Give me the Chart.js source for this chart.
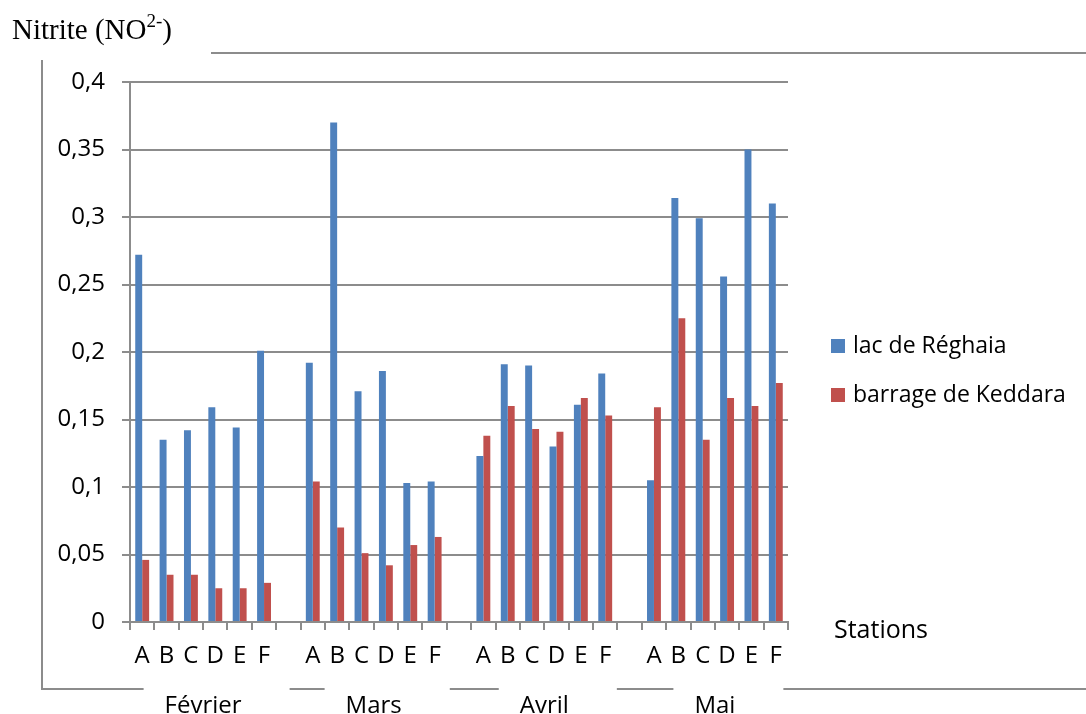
<!DOCTYPE html>
<html>
<head>
<meta charset="utf-8">
<script src="https://cdn.jsdelivr.net/npm/chart.js@4.4.1/dist/chart.umd.min.js"></script>
<style>
  html, body { margin: 0; background: #fff; }
  #wrap { width: 1086px; height: 714px; }
</style>
</head>
<body>
<div id="wrap"><canvas id="graph"></canvas></div>
<script>
// Données
const stations = ['A', 'B', 'C', 'D', 'E', 'F'];
const mois = ['Février', 'Mars', 'Avril', 'Mai'];

const lacFevrier = [0.272, 0.135, 0.142, 0.159, 0.144, 0.201];
const lacMars    = [0.192, 0.370, 0.171, 0.186, 0.103, 0.104];
const lacAvril   = [0.123, 0.191, 0.190, 0.130, 0.161, 0.184];
const lacMai     = [0.105, 0.314, 0.299, 0.256, 0.350, 0.310];

const barFevrier = [0.046, 0.035, 0.035, 0.025, 0.025, 0.029];
const barMars    = [0.104, 0.070, 0.051, 0.042, 0.057, 0.063];
const barAvril   = [0.138, 0.160, 0.143, 0.141, 0.166, 0.153];
const barMai     = [0.159, 0.225, 0.135, 0.166, 0.160, 0.177];

const yTicks = [0, 0.05, 0.1, 0.15, 0.2, 0.25, 0.3, 0.35, 0.4];

const series = [
  { nom: 'lac de Réghaia', couleur: '#4F81BD', valeurs: [lacFevrier, lacMars, lacAvril, lacMai] },
  { nom: 'barrage de Keddara', couleur: '#C0504D', valeurs: [barFevrier, barMars, barAvril, barMai] }
];

// Construit les étiquettes avec une case vide entre chaque mois
const labels = [];
const groupes = [];
mois.forEach((m, i) => {
  groupes.push({ mois: m, debut: labels.length, fin: labels.length + stations.length - 1 });
  stations.forEach(s => labels.push(s));
  if (i < mois.length - 1) labels.push('');
});

function aplatir(tab) {
  const out = [];
  tab.forEach((v, i) => {
    out.push(...v);
    if (i < tab.length - 1) out.push(null);
  });
  return out;
}

const GRIS = '#8c8c8c';
const POLICE = "'Open Sans', sans-serif";

const decor = {
  id: 'decor',
  afterDraw(chart) {
    const ctx = chart.ctx;
    const x = chart.scales.x;
    ctx.save();

    // Titre de l'axe Y
    ctx.fillStyle = '#000';
    ctx.textBaseline = 'alphabetic';
    ctx.textAlign = 'left';
    ctx.font = "29px 'Liberation Serif', serif";
    let tx = 12;
    ctx.fillText('Nitrite (NO', tx, 39);
    tx += ctx.measureText('Nitrite (NO').width;
    ctx.font = "19px 'Liberation Serif', serif";
    ctx.fillText('2-', tx, 27);
    tx += ctx.measureText('2-').width;
    ctx.font = "29px 'Liberation Serif', serif";
    ctx.fillText(')', tx, 39);

    // Cadre
    ctx.strokeStyle = GRIS;
    ctx.lineWidth = 2;
    ctx.beginPath();
    ctx.moveTo(211, 53); ctx.lineTo(1086, 53);
    ctx.moveTo(42, 60); ctx.lineTo(42, 689);
    ctx.stroke();

    // Étiquettes des mois et traits
    ctx.font = '24px ' + POLICE;
    ctx.textAlign = 'center';
    ctx.textBaseline = 'alphabetic';
    let debutTrait = 41;
    groupes.forEach(g => {
      const cx = (x.getPixelForValue(g.debut) + x.getPixelForValue(g.fin)) / 2;
      const w = ctx.measureText(g.mois).width;
      ctx.fillText(g.mois, cx, 713);
      ctx.beginPath();
      ctx.moveTo(debutTrait, 689);
      ctx.lineTo(cx - w / 2 - 21, 689);
      ctx.stroke();
      debutTrait = cx + w / 2 + 48;
    });
    ctx.beginPath();
    ctx.moveTo(debutTrait, 689);
    ctx.lineTo(1086, 689);
    ctx.stroke();

    // Titre de l'axe X
    ctx.font = '25px ' + POLICE;
    ctx.textAlign = 'left';
    ctx.textBaseline = 'middle';
    ctx.fillText('Stations', 834, 631);

    // Légende
    ctx.font = '23px ' + POLICE;
    series.forEach((s, i) => {
      const y = 346 + i * 49;
      ctx.fillStyle = s.couleur;
      ctx.fillRect(831, y - 7, 14, 14);
      ctx.fillStyle = '#000';
      ctx.fillText(s.nom, 853, y);
    });

    ctx.restore();
  }
};

new Chart(document.getElementById('graph'), {
  type: 'bar',
  data: {
    labels: labels,
    datasets: series.map(s => ({
      label: s.nom,
      data: aplatir(s.valeurs),
      backgroundColor: s.couleur,
      borderWidth: 0,
      categoryPercentage: 0.57,
      barPercentage: 1
    }))
  },
  options: {
    responsive: true,
    maintainAspectRatio: false,
    animation: false,
    layout: { padding: { left: 0, top: 82, right: 298, bottom: 0 } },
    plugins: {
      legend: { display: false },
      tooltip: { enabled: false }
    },
    scales: {
      x: {
        afterFit: s => { s.height = 92; },
        grid: { drawOnChartArea: false, drawTicks: true, tickLength: 8, color: GRIS, lineWidth: 2, offset: true },
        border: { color: GRIS, width: 2 },
        ticks: { autoSkip: false, maxRotation: 0, padding: 12, color: '#000', font: { family: POLICE, size: 24 } }
      },
      y: {
        min: 0,
        max: 0.4,
        afterFit: s => { s.width = 130; },
        afterBuildTicks: s => { s.ticks = yTicks.map(v => ({ value: v })); },
        grid: { color: GRIS, lineWidth: 2, tickLength: 8 },
        border: { color: GRIS, width: 2 },
        ticks: {
          padding: 17,
          color: '#000',
          font: { family: POLICE, size: 24 },
          callback: v => String(Math.round(v * 100) / 100).replace('.', ',')
        }
      }
    }
  },
  plugins: [decor]
});
</script>
</body>
</html>
